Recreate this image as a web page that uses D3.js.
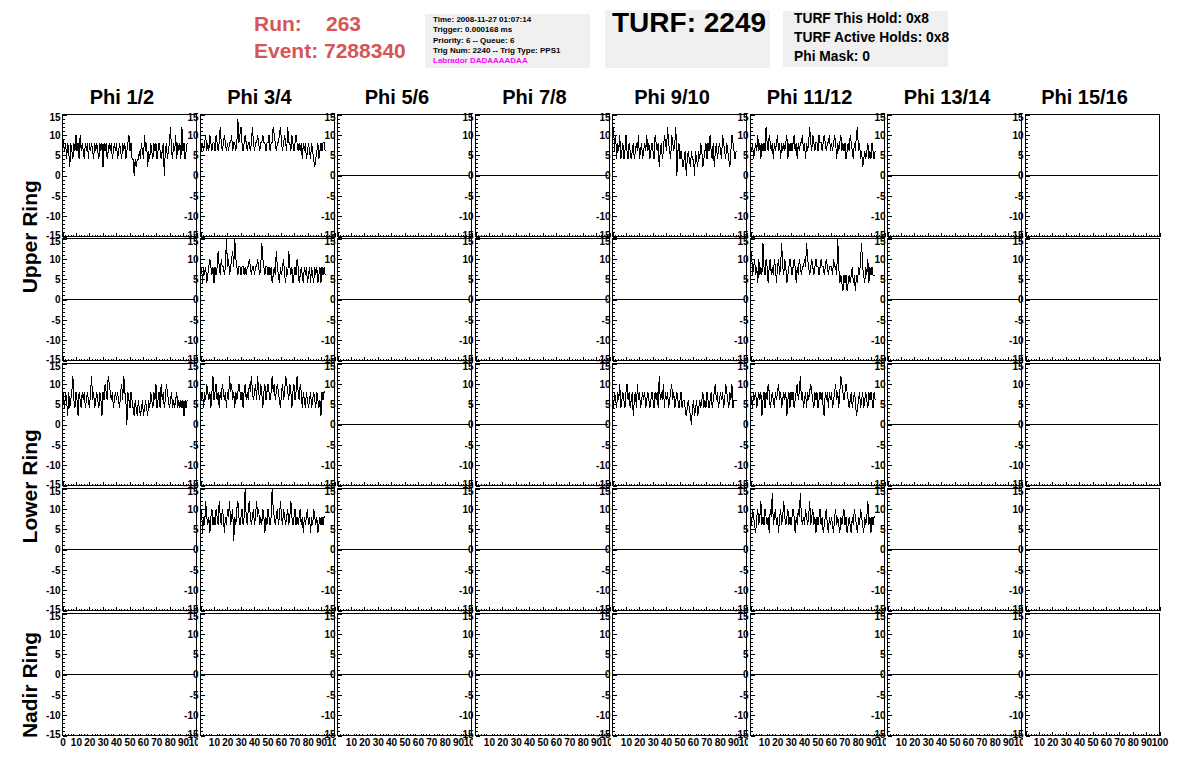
<!DOCTYPE html>
<html><head><meta charset="utf-8">
<script src="https://cdn.jsdelivr.net/npm/d3@7"></script>
<style>
body{margin:0;background:#fff}
svg{display:block}
text{font-family:"Liberation Sans",Arial,Helvetica,sans-serif}
</style>
</head><body>
<svg id="c" width="1196" height="772"></svg>
<script>
// ---------------- data ----------------
const phiLabels = ["Phi 1/2","Phi 3/4","Phi 5/6","Phi 7/8","Phi 9/10","Phi 11/12","Phi 13/14","Phi 15/16"];
const ringLabels = ["Upper Ring","Lower Ring","Nadir Ring"];
const yTickValues = [-15,-10,-5,0,5,10,15];
const xTickValues = [0,10,20,30,40,50,60,70,80,90,100];
const sampleStep = 0.775;           // ns per drawn sample
const emptyTimes = [0, 99];
const emptyValues = [0, 0];

const runNumber = "263";
const eventNumber = "7288340";
const infoLines = ["Time: 2008-11-27 01:07:14","Trigger: 0.000168 ms","Priority: 6 -- Queue: 6","Trig Num: 2240 -- Trig Type: PPS1"];
const labradorLine = "Labrador DADAAAADAA";
const turfLabel = "TURF: 2249";
const turfLines = ["TURF This Hold: 0x8","TURF Active Holds: 0x8","Phi Mask: 0"];

// row 1 (Upper Ring, first antenna row)
const row1Phi12 = [10,8,6,8,4,8,6,2,8,6,4,8,6, 10,6,8,4,10,6,8,6,4,8,6,8,4, 8,6,8,6,4,8,6,8,6,4,8,6,8, 2,8,6,8,4,6,8,6,8,4,6,8,6, 8,4,6,8,6,4,8,6,8,4,6,8,10, 6,8,4,4,0,4,2,4,4,6,4,8,6, 4,10,6,8,2,6,4,8,6,4,8,6,8, 4,6,8,6,4,6,8,0,6,8,4,6,8, 12,6,4,8,6,10,4,8,6,8,4,12,6,8,4,6,8];
const row1Phi34 = [10,6,8,6,8,10,6,8,6,10,8,6,8, 8,6,10,8,6,8,12,8,6,8,10,8,6, 8,6,8,8,10,6,8,8,6,8,14,8,10, 12,8,6,8,10,8,6,8,8,6,8,12,8, 6,8,8,10,8,6,8,8,10,8,8,6,8, 8,10,6,8,8,12,10,8,6,8,8,10,12, 8,6,8,10,8,6,12,8,8,6,10,8,6, 8,10,8,6,8,6,8,4,8,6,8,4,6, 8,6,4,8,6,4,2,4,6,8,4,6,8,6,8,8,6];
const row1Phi910 = [8,12,6,10,4,8,6,10,4,6,8,4,6, 10,6,4,8,6,4,6,8,4,6,8,6,10, 4,6,8,4,6,8,6,10,6,8,4,6,8, 6,4,10,8,6,8,2,6,8,4,6,10,8, 6,12,8,6,4,10,8,6,8,12,0,6,8, 4,6,4,2,4,6,0,4,6,4,2,6,4, 4,0,6,4,2,6,4,8,6,2,4,6,8, 4,8,6,10,6,4,8,2,6,8,4,6,8, 6,4,10,8,6,4,8,6,4,2,6,10,8,6,4,6,6];
const row1Phi1112 = [8,6,8,4,6,8,6,10,6,8,4,8,6, 8,6,12,8,6,10,8,6,8,4,8,6,8, 10,6,8,4,8,6,8,6,8,10,4,8,6, 8,6,8,10,6,8,4,8,6,8,8,10,6, 8,4,8,6,8,12,8,6,10,8,6,8,8, 6,10,8,8,6,8,10,8,6,8,8,10,6, 8,6,8,10,8,4,8,6,8,10,6,8,6, 8,4,6,8,6,10,8,6,4,8,6,10,12, 6,8,4,6,2,4,6,4,6,8,4,6,4,8,6,4,6];
// row 2 (Upper Ring, second antenna row)
const row2Phi34 = [6,8,4,8,6,8,4,6,8,10,8,6,8, 4,8,6,8,12,8,6,10,8,8,6,8,15, 8,10,6,8,10,12,8,15,10,8,6,8,8, 6,8,8,6,8,6,8,8,10,8,6,8,8, 6,8,8,10,8,6,8,14,10,8,6,8,8, 6,8,6,8,4,6,8,6,12,8,6,4,8, 6,8,10,6,4,8,6,12,8,6,8,4,6, 8,6,10,8,4,6,8,6,4,8,6,8,4, 6,8,4,8,6,4,8,6,8,4,6,8,4,8,6,8,6];
const row2Phi1112 = [8,12,6,8,10,6,8,4,10,6,8,6,14, 8,6,10,8,4,8,10,6,8,6,10,8,4, 8,10,6,8,14,8,6,10,8,4,6,8,10, 8,6,8,10,8,4,8,6,10,8,6,8,8, 10,8,14,10,8,6,8,10,8,6,8,10,8, 8,6,8,10,8,8,6,8,10,8,6,8,8, 8,6,10,8,8,6,15,8,4,6,4,2,6, 4,6,2,4,6,4,6,8,4,6,2,6,4, 8,6,10,14,8,6,4,8,6,10,4,8,6,8,6,6,6];
// row 3 (Lower Ring, first antenna row)
const row3Phi12 = [10,6,4,8,6,2,8,4,6,8,12,6,4, 8,6,2,8,6,4,8,6,8,4,6,8,6, 4,8,12,6,8,4,6,8,6,4,8,6,2, 8,6,10,8,6,12,10,8,6,8,4,6,8, 6,8,6,4,8,10,6,12,8,6,0,8,6, 4,8,6,4,2,6,4,2,6,4,2,4,6, 2,4,6,4,2,6,4,8,6,4,8,6,10, 4,6,8,4,10,6,8,4,6,10,8,6,4, 6,8,4,6,4,6,8,4,6,4,6,4,6,2,6,4,6];
const row3Phi34 = [10,6,8,4,8,6,10,8,6,8,4,8,12, 6,8,10,6,8,4,8,6,10,8,6,8,4, 8,6,12,8,10,6,8,4,8,6,8,10,8, 6,8,4,8,10,6,8,6,10,8,12,8,6, 8,10,6,12,8,6,10,8,4,8,10,6,8, 10,8,6,8,12,8,10,6,8,10,8,6,4, 8,10,6,8,12,10,8,6,10,8,4,8,10, 6,8,12,8,6,10,8,4,8,6,4,8,6, 4,6,8,4,6,8,6,4,8,6,4,6,2,8,6,8,8];
const row3Phi910 = [6,4,8,6,4,8,6,10,4,6,8,6,4, 8,10,6,8,4,6,8,2,6,8,4,10,6, 8,4,6,8,6,8,4,6,8,6,4,6,8, 6,4,8,6,8,4,12,6,8,6,10,4,8, 6,8,4,6,8,10,6,8,4,6,8,6,4, 6,8,4,6,6,4,2,4,6,4,2,0,4, 6,2,4,6,2,4,6,4,6,8,4,6,4, 8,6,4,6,8,4,6,8,10,6,8,4,6, 8,6,8,4,6,10,8,6,4,8,6,10,4,6,6,6,6];
const row3Phi1112 = [8,6,4,8,6,8,4,6,8,6,8,2,6, 8,4,8,6,10,8,4,6,8,6,4,8,6, 8,10,6,8,4,6,8,6,8,2,6,8,4, 8,6,8,4,6,8,10,6,8,12,6,8,4, 6,8,4,8,6,8,10,8,6,4,8,6,8, 4,6,8,6,8,4,2,8,6,8,4,8,6, 8,4,6,8,10,6,8,4,8,12,10,8,6, 8,10,8,6,4,6,8,4,6,8,6,2,4, 6,8,4,6,8,4,6,8,6,4,8,6,8,6,4,8,6];
// row 4 (Lower Ring, second antenna row)
const row4Phi34 = [6,10,4,8,6,12,8,6,8,4,8,10,6, 8,6,10,8,6,12,8,6,10,8,4,8,6, 10,8,12,6,8,10,2,8,6,10,12,8,6, 8,10,6,8,15,8,6,10,12,8,6,8,10, 6,8,12,8,10,6,8,6,10,8,4,8,6, 10,8,6,8,15,10,8,6,8,10,6,8,12, 8,6,10,8,6,8,10,6,8,12,8,6,8, 10,6,8,6,8,10,6,8,4,8,6,8,10, 6,8,4,8,6,10,8,6,8,4,6,8,6,8,6,8,8];
const row4Phi1112 = [8,6,10,8,6,4,8,10,6,8,12,6,8, 6,10,8,6,8,4,10,8,14,6,8,10,6, 8,4,8,10,6,8,12,8,6,8,10,6,8, 6,8,10,8,4,8,6,10,8,14,8,6,8, 6,10,8,6,8,12,6,8,10,6,8,4,8, 6,8,10,6,8,4,6,8,10,6,4,8,6, 8,6,4,8,10,6,8,6,4,8,6,8,10, 6,8,4,6,8,6,4,8,6,10,8,6,4, 8,6,10,8,6,4,8,6,8,12,6,8,4,8,6,8,8];

const activeTraces = [
  {row:0, col:0, values:row1Phi12}, {row:0, col:1, values:row1Phi34},
  {row:0, col:4, values:row1Phi910}, {row:0, col:5, values:row1Phi1112},
  {row:1, col:1, values:row2Phi34}, {row:1, col:5, values:row2Phi1112},
  {row:2, col:0, values:row3Phi12}, {row:2, col:1, values:row3Phi34},
  {row:2, col:4, values:row3Phi910}, {row:2, col:5, values:row3Phi1112},
  {row:3, col:1, values:row4Phi34}, {row:3, col:5, values:row4Phi1112}
];

// ---------------- layout ----------------
const W = 1196, H = 772;
const nRows = 5, nCols = 8;
const left0 = 62, colStep = 137.5, plotW = 134;
const top0 = 113.5, rowStep = 124.75, plotH = 122;

const svg = d3.select("#c");
svg.append("rect").attr("width", W).attr("height", H).attr("fill", "#fff");

// ---------------- header ----------------
const red = "#d45656";
svg.append("text").attr("x", 254).attr("y", 31).attr("fill", red)
  .attr("font-size", 21).attr("font-weight", "bold").text("Run:");
svg.append("text").attr("x", 326).attr("y", 31).attr("fill", red)
  .attr("font-size", 21).attr("font-weight", "bold").text(runNumber);
svg.append("text").attr("x", 254).attr("y", 58).attr("fill", red)
  .attr("font-size", 21).attr("font-weight", "bold").text("Event: " + eventNumber);

svg.append("rect").attr("x", 425).attr("y", 14).attr("width", 165).attr("height", 54).attr("fill", "#f0f0f0");
infoLines.forEach((t, i) => {
  svg.append("text").attr("x", 433).attr("y", 22 + i * 10.35)
    .attr("font-size", 8).attr("font-weight", "bold").attr("fill", "#000").text(t);
});
svg.append("text").attr("x", 433).attr("y", 22 + 4 * 10.35)
  .attr("font-size", 8).attr("font-weight", "bold").attr("fill", "#ff00ff").text(labradorLine);

svg.append("rect").attr("x", 605).attr("y", 10).attr("width", 165).attr("height", 58).attr("fill", "#f0f0f0");
svg.append("text").attr("x", 612).attr("y", 32).attr("font-size", 28).attr("font-weight", "bold")
  .attr("fill", "#000").text(turfLabel);

svg.append("rect").attr("x", 783).attr("y", 11).attr("width", 165).attr("height", 56).attr("fill", "#f0f0f0");
turfLines.forEach((t, i) => {
  svg.append("text").attr("x", 794).attr("y", 23 + i * 19.2)
    .attr("font-size", 13.8).attr("font-weight", "bold").attr("fill", "#000").text(t);
});

// column headers
phiLabels.forEach((t, c) => {
  svg.append("text").attr("x", left0 + c * colStep + plotW / 2 - 7).attr("y", 104)
    .attr("text-anchor", "middle").attr("font-size", 20).attr("font-weight", "bold").text(t);
});

// ring labels
const ringCenters = [top0 + rowStep - 1.5, top0 + 3 * rowStep - 1.5, 685];
ringLabels.forEach((t, i) => {
  svg.append("text").attr("transform", `translate(37,${ringCenters[i]}) rotate(-90)`)
    .attr("text-anchor", "middle").attr("font-size", 21).attr("font-weight", "bold").text(t);
});

// ---------------- panels ----------------
const defs = svg.append("defs");
const x = d3.scaleLinear().domain([0, 100]).range([0, plotW]);
const y = d3.scaleLinear().domain([-15, 15]).range([plotH, 0]);
const line = d3.line().x((d, i) => x(i * sampleStep)).y(d => y(d));
const flatLine = d3.line().x((d, i) => x(emptyTimes[i])).y(d => y(d));

const yMinor = d3.range(-15, 16, 1).filter(v => v % 5 !== 0);
const xMinor = d3.range(0, 101, 2).filter(v => v % 10 !== 0);

const traceLookup = new Map(activeTraces.map(t => [t.row + "-" + t.col, t.values]));

for (let r = 0; r < nRows; r++) {
  for (let c = 0; c < nCols; c++) {
    const px = Math.round(left0 + c * colStep) + 0.5;
    const py = Math.round(top0 + r * rowStep) + 0.5;
    const g = svg.append("g").attr("transform", `translate(${px},${py})`);

    // trace
    const vals = traceLookup.get(r + "-" + c);
    if (vals) {
      g.append("path").datum(vals).attr("d", line)
        .attr("fill", "none").attr("stroke", "#000").attr("stroke-width", 1)
        .attr("shape-rendering", "crispEdges");
    } else {
      g.append("path").datum(emptyValues).attr("d", flatLine)
        .attr("fill", "none").attr("stroke", "#000").attr("stroke-width", 1)
        .attr("shape-rendering", "crispEdges");
    }

    // frame
    g.append("rect").attr("x", 0).attr("y", 0).attr("width", plotW).attr("height", plotH)
      .attr("fill", "none").attr("stroke", "#000").attr("stroke-width", 1)
      .attr("shape-rendering", "crispEdges");

    // y axis (major + minor, ticks inward)
    const ya = g.append("g").call(d3.axisLeft(y).tickValues(yTickValues)
      .tickSizeInner(-4).tickSizeOuter(0).tickPadding(2).tickFormat(d => String(d)));
    ya.select(".domain").remove();
    ya.selectAll("line").attr("shape-rendering", "crispEdges");
    ya.selectAll("text").attr("font-size", 10).attr("font-weight", "bold")
      .attr("font-family", '"Liberation Sans",Arial,sans-serif')
      .attr("dy", d => d === 15 ? "0.6em" : (d === -15 ? "0.15em" : "0.32em"));
    const ym = g.append("g").call(d3.axisLeft(y).tickValues(yMinor)
      .tickSizeInner(-2).tickSizeOuter(0).tickFormat(""));
    ym.select(".domain").remove();
    ym.selectAll("line").attr("shape-rendering", "crispEdges");

    // x axis (ticks upward)
    const bottomRow = (r === nRows - 1);
    const xa = g.append("g").attr("transform", `translate(0,${plotH})`)
      .call(d3.axisBottom(x).tickValues(xTickValues).tickSizeInner(-4).tickSizeOuter(0).tickPadding(3)
        .tickFormat(d => bottomRow && !(d === 0 && c > 0) ? String(d) : ""));
    xa.select(".domain").remove();
    xa.selectAll("line").attr("shape-rendering", "crispEdges");
    xa.selectAll("text").attr("font-size", 10).attr("font-weight", "bold")
      .attr("font-family", '"Liberation Sans",Arial,sans-serif');
    if (bottomRow && c < nCols - 1) {
      const cid = "clipx" + c;
      defs.append("clipPath").attr("id", cid).append("rect")
        .attr("x", -12).attr("y", 0).attr("width", plotW + 13.5).attr("height", 20);
      xa.attr("clip-path", `url(#${cid})`);
    }
    const xm = g.append("g").attr("transform", `translate(0,${plotH})`)
      .call(d3.axisBottom(x).tickValues(xMinor).tickSizeInner(-2).tickSizeOuter(0).tickFormat(""));
    xm.select(".domain").remove();
    xm.selectAll("line").attr("shape-rendering", "crispEdges");
  }
}
</script>
</body></html>
